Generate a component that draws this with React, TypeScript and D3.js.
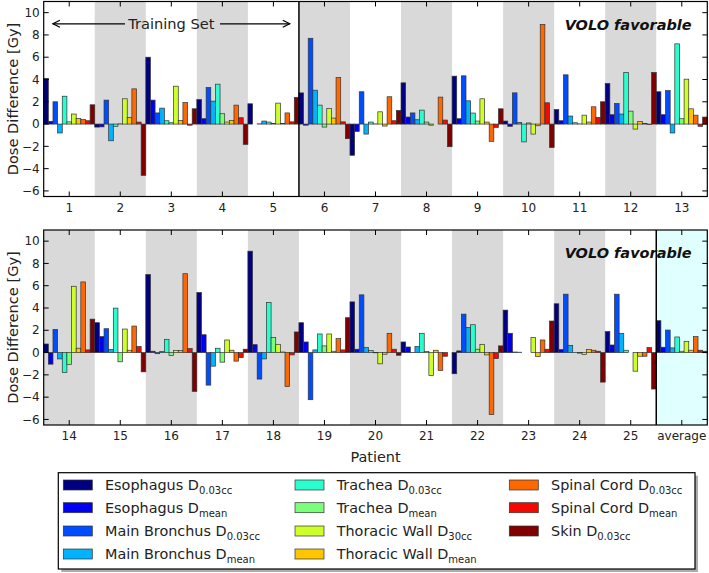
import React from 'react';
import * as d3 from 'd3';

// patient labels, top panel = first 13, bottom panel = last 13
const patients = ['1', '2', '3', '4', '5', '6', '7', '8', '9', '10', '11', '12', '13',
  '14', '15', '16', '17', '18', '19', '20', '21', '22', '23', '24', '25', 'average'];

// dose differences [Gy] per metric, one value per patient (incl. average)
const esoD003 = [4.1, -0.27, 6.0, 2.2, 1.82, 2.8, -2.8, 3.7, 4.3, 0.27, 1.3, 3.64, 2.9, 0.77, 2.68, 7.0, 5.39, 9.1, 2.68, 4.55, 0.95, -1.9, 3.81, 4.38, 1.88, 2.86];
const esoDmean = [0.25, -0.25, 2.15, 0.48, 0.0, -0.1, -0.66, 0.63, 0.48, -0.2, 0.3, 0.84, 0.84, -1.04, 1.43, 0.12, 1.6, 0.71, 0.95, 0.3, 0.5, 0.15, 1.73, 0.27, 0.68, 0.48];
const mbD003 = [2.0, 2.15, 1.0, 3.28, 0.02, 7.7, 2.9, 1.0, 4.33, 2.8, 4.42, 1.85, 3.0, 2.08, 2.14, -0.1, -2.92, -2.38, -4.23, 5.18, 0.02, 3.45, 0.05, 5.24, 5.24, 2.02];
const mbDmean = [-0.8, -1.5, 1.43, 2.06, 0.27, 3.04, -0.9, 0.39, 2.09, 0.15, 0.72, 0.9, -0.8, -0.57, 0.27, 0.1, -1.22, -0.57, 0.24, 0.45, 0.54, 2.26, 0.03, 0.65, 1.73, 0.42];
const trD003 = [2.5, -0.2, 0.3, 3.58, 0.18, 1.7, 0.18, 1.25, 0.99, -1.6, 0.12, 4.63, 7.2, -1.79, 3.99, 1.19, 0.39, 4.49, 1.67, 0.18, 1.73, 2.5, 0.0, 0.02, 0.21, 1.4];
const trDmean = [0.2, 0.02, 0.12, 0.93, 0.05, -0.27, 0.02, 0.18, 0.27, 0.1, 0.02, 1.16, 0.48, -1.07, -0.83, -0.27, -0.86, 1.34, 0.6, -0.02, 0.1, 0.3, 0.0, -0.05, 0.0, 0.12];
const twD30 = [0.9, 2.27, 3.4, 0.18, 1.88, 1.4, 1.1, -0.1, 2.27, -0.9, 0.8, -0.45, 4.03, 5.95, 2.11, 0.18, 1.13, 0.74, 1.67, -1.01, -2.05, 0.74, 1.34, -0.18, -1.67, 1.01];
const twDmean = [0.5, 0.6, 0.33, 0.33, 0.05, 0.54, -0.18, 0.0, 0.18, -0.15, 0.18, 0.24, 1.37, 0.39, 0.21, 0.18, 0.21, 0.05, 0.12, -0.15, 0.21, -0.21, -0.36, 0.27, -0.33, 0.21];
const scD003 = [0.4, 3.16, 1.94, 1.7, 1.0, 4.18, 2.45, 2.42, -1.55, 8.95, 1.55, 0.05, 0.8, 6.34, 2.38, 7.08, -0.77, -3.04, 1.25, 1.73, -1.6, -5.57, 1.13, 0.21, -0.33, 1.43];
const scDmean = [0.3, 0.18, -0.1, 0.57, 0.2, 0.2, 0.3, 0.36, -0.3, 1.91, 0.6, -0.05, -0.2, 0.24, 0.54, 0.36, -0.45, -0.21, 0.24, 0.3, -0.33, -0.54, 0.3, 0.12, 0.45, 0.21];
const skinD003 = [1.73, -4.6, 1.37, -1.82, 2.39, -1.31, 1.22, -2.03, 1.37, -2.1, 2.0, 4.63, 0.63, 3.0, -1.73, -3.48, 0.3, 1.85, 3.13, -0.24, 0.0, 0.6, 2.83, -2.65, -3.27, 0.12];

const seriesNames = ['Esophagus', 'Esophagus', 'Main Bronchus', 'Main Bronchus', 'Trachea', 'Trachea',
  'Thoracic Wall', 'Thoracic Wall', 'Spinal Cord', 'Spinal Cord', 'Skin'];
const seriesSubs = ['0.03cc', 'mean', '0.03cc', 'mean', '0.03cc', 'mean', '30cc', 'mean', '0.03cc', 'mean', '0.03cc'];
const seriesValues = [esoD003, esoDmean, mbD003, mbDmean, trD003, trDmean, twD30, twDmean, scD003, scDmean, skinD003];

const yTicks = [-6, -4, -2, 0, 2, 4, 6, 8, 10];

const font = 'DejaVu Sans, sans-serif';

// matplotlib "jet" segment data
const jetR: [number, number][] = [[0, 0], [0.35, 0], [0.66, 1], [0.89, 1], [1, 0.5]];
const jetG: [number, number][] = [[0, 0], [0.125, 0], [0.375, 1], [0.64, 1], [0.91, 0], [1, 0]];
const jetB: [number, number][] = [[0, 0.5], [0.11, 1], [0.34, 1], [0.65, 0], [1, 0]];
const seg = (pts: [number, number][]) => d3.scaleLinear().domain(pts.map(p => p[0])).range(pts.map(p => p[1]));
const jet = (t: number) => d3.rgb(seg(jetR)(t) * 255, seg(jetG)(t) * 255, seg(jetB)(t) * 255).formatHex();
const colors = seriesValues.map((_, i) => jet(i / (seriesValues.length - 1)));

const left = 43.7;
const right = 707.3;
const panelH = 195;
const yDomain: [number, number] = [-6.5, 11];

const Panel = ({ top, start, divider, training }: { top: number; start: number; divider: number; training?: boolean }) => {
  const cats = patients.slice(start, start + 13);
  const x = d3.scaleBand<string>().domain(cats).range([left, right]).padding(0);
  const xs = d3.scaleBand<number>().domain(d3.range(seriesValues.length)).range([0, x.bandwidth()]).padding(0);
  const y = d3.scaleLinear().domain(yDomain).range([top + panelH, top]);
  const xi = d3.scaleLinear().domain([0.5, 13.5]).range([left, right]);
  const bottom = top + panelH;
  const bw = x.bandwidth();

  return (
    <g>
      {/* alternating background bands */}
      {cats.map(c => {
        const fill = c === 'average' ? '#e0ffff' : (+c % 2 === 0 ? '#d9d9d9' : 'none');
        if (fill === 'none') return null;
        return <rect key={c} x={x(c)} y={top} width={bw} height={panelH} fill={fill} />;
      })}

      {/* bars */}
      {cats.map((c, i) => (
        <g key={c} transform={`translate(${x(c)},0)`}>
          {seriesValues.map((vals, s) => {
            const v = vals[start + i];
            return (
              <rect
                key={s}
                x={xs(s)}
                y={y(Math.max(0, v))}
                width={xs.bandwidth()}
                height={Math.abs(y(v) - y(0))}
                fill={colors[s]}
                stroke="#333"
                strokeWidth={0.7}
              />
            );
          })}
        </g>
      ))}

      {/* divider line */}
      <line x1={xi(divider)} x2={xi(divider)} y1={top} y2={bottom} stroke="#000" strokeWidth={1.5} />

      {/* frame */}
      <rect x={left} y={top} width={right - left} height={panelH} fill="none" stroke="#000" strokeWidth={1.2} />

      {/* y ticks */}
      {yTicks.map(t => (
        <g key={t}>
          <line x1={left} x2={left + 5} y1={y(t)} y2={y(t)} stroke="#000" />
          <line x1={right - 5} x2={right} y1={y(t)} y2={y(t)} stroke="#000" />
          <text x={left - 4} y={y(t)} dy="0.35em" textAnchor="end" fontSize={12} fontFamily={font} fill="#222">
            {t < 0 ? `\u2212${-t}` : t}
          </text>
        </g>
      ))}

      {/* x ticks */}
      {cats.map(c => {
        const cx = (x(c) as number) + bw / 2;
        return (
          <g key={c}>
            <line x1={cx} x2={cx} y1={bottom} y2={bottom - 5} stroke="#000" />
            <line x1={cx} x2={cx} y1={top} y2={top + 5} stroke="#000" />
            <text x={cx} y={bottom + 11} dy="0.35em" textAnchor="middle" fontSize={12} fontFamily={font} fill="#222">
              {c}
            </text>
          </g>
        );
      })}

      <text
        transform={`translate(13,${top + panelH / 2}) rotate(-90)`}
        textAnchor="middle"
        dy="0.35em"
        fontSize={14.6}
        fontFamily={font}
        fill="#222"
      >
        Dose Difference [Gy]
      </text>

      <text x={691.7} y={top + 23} dy="0.35em" textAnchor="end" fontSize={14.5} fontFamily={font}
        fontWeight="bold" fontStyle="italic" fill="#111">
        VOLO favorable
      </text>

      {training && (
        <g stroke="#000" strokeWidth={1.2} fill="none">
          <line x1={xi(0.68)} x2={125} y1={y(9)} y2={y(9)} />
          <line x1={220} x2={xi(5.32)} y1={y(9)} y2={y(9)} />
          <polyline points={`${xi(0.68) + 7},${y(9) - 3.5} ${xi(0.68)},${y(9)} ${xi(0.68) + 7},${y(9) + 3.5}`} />
          <polyline points={`${xi(5.32) - 7},${y(9) - 3.5} ${xi(5.32)},${y(9)} ${xi(5.32) - 7},${y(9) + 3.5}`} />
          <text x={xi(3)} y={y(9)} dy="0.35em" textAnchor="middle" fontSize={14.6} fontFamily={font}
            fill="#222" stroke="none">
            Training Set
          </text>
        </g>
      )}
    </g>
  );
};

const Legend = () => {
  const boxX = 58.3, boxY = 472.7, boxW = 636.7, boxH = 96.3;
  const colX = [63.3, 295, 509.3];
  const rowY = [485, 507.7, 531, 554];
  return (
    <g>
      <rect x={boxX + 3} y={boxY + 3} width={boxW} height={boxH} fill="#777" opacity={0.6} />
      <rect x={boxX} y={boxY} width={boxW} height={boxH} fill="#fff" stroke="#000" strokeWidth={1.2} />
      {seriesNames.map((name, i) => {
        const col = Math.floor(i / 4);
        const row = i % 4;
        const px = colX[col];
        const py = rowY[row];
        return (
          <g key={i}>
            <rect x={px} y={py - 5} width={29} height={10} fill={colors[i]} stroke="#333" strokeWidth={0.7} />
            <text x={px + 41.7} y={py} dy="0.35em" fontSize={14.4} fontFamily={font} fill="#222">
              {name} D<tspan fontSize={10} dy={4}>{seriesSubs[i]}</tspan>
            </text>
          </g>
        );
      })}
    </g>
  );
};

export default function App() {
  return (
    <svg width={709} height={573} style={{ position: 'absolute', left: 0, top: 0, background: '#fff' }}>
      <rect width={709} height={573} fill="#fff" />
      <Panel top={1.5} start={0} divider={5.5} training />
      <Panel top={230} start={13} divider={12.5} />
      <text x={(left + right) / 2} y={457} dy="0.35em" textAnchor="middle" fontSize={14.4} fontFamily={font} fill="#222">
        Patient
      </text>
      <Legend />
    </svg>
  );
}
